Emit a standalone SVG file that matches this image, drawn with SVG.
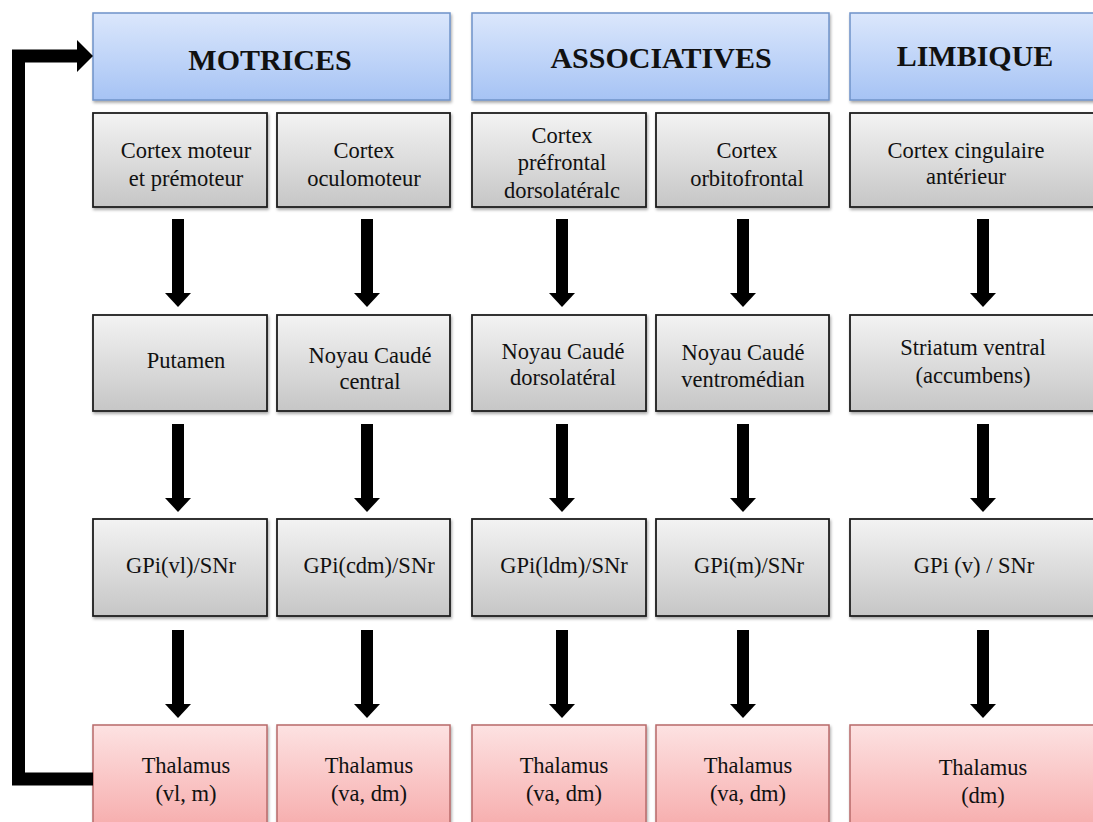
<svg xmlns="http://www.w3.org/2000/svg" width="1093" height="822" viewBox="0 0 1093 822">
<defs>
<linearGradient id="gBlue" x1="0" y1="0" x2="0" y2="1"><stop offset="0" stop-color="#dbe7fc"/><stop offset="1" stop-color="#a6c3f4"/></linearGradient>
<linearGradient id="gGray" x1="0" y1="0" x2="0" y2="1"><stop offset="0" stop-color="#f3f3f3"/><stop offset="1" stop-color="#c6c6c6"/></linearGradient>
<linearGradient id="gPink" x1="0" y1="0" x2="0" y2="1"><stop offset="0" stop-color="#fde2e2"/><stop offset="1" stop-color="#f6a9a9"/></linearGradient>
<filter id="sh" x="-5%" y="-5%" width="115%" height="120%"><feDropShadow dx="1" dy="2" stdDeviation="1.5" flood-color="#000" flood-opacity="0.35"/></filter>
<marker id="ah" viewBox="0 0 14 26" refX="0" refY="13" markerWidth="14" markerHeight="26" markerUnits="userSpaceOnUse" orient="auto"><path d="M0,0 L14,13 L0,26 Z" fill="#000"/></marker>
</defs>
<style>
.hdr{fill:url(#gBlue);stroke:#6f93c9;stroke-width:1.5;filter:url(#sh)}
.gry{fill:url(#gGray);stroke:#1e1e1e;stroke-width:1.8;filter:url(#sh)}
.pnk{fill:url(#gPink);stroke:#b86a6a;stroke-width:1.5;filter:url(#sh)}
text{font-family:'Liberation Serif','DejaVu Serif',serif;fill:#111;text-anchor:middle}
.ht{font-size:30px;font-weight:bold}
.bt{font-size:22.5px}
</style>
<rect width="1093" height="822" fill="#fff"/>
<g font-family="Liberation Serif, serif">
<g id="h-motrices"><rect class="hdr" x="93" y="13" width="357" height="87"/><text class="ht" x="270" y="70">MOTRICES</text></g>
<g id="h-associatives"><rect class="hdr" x="472" y="13" width="357" height="87"/><text class="ht" x="661" y="68">ASSOCIATIVES</text></g>
<g id="h-limbique"><rect class="hdr" x="850" y="13" width="260" height="87"/><text class="ht" x="975" y="66">LIMBIQUE</text></g>

<g id="n-cortex-moteur"><rect class="gry" x="93" y="113" width="174" height="94"/><text class="bt" x="186" y="158">Cortex moteur</text><text class="bt" x="186" y="186">et prémoteur</text></g>
<g id="n-cortex-oculo"><rect class="gry" x="277" y="113" width="173" height="94"/><text class="bt" x="364" y="158">Cortex</text><text class="bt" x="364" y="186">oculomoteur</text></g>
<g id="n-cortex-pfdl"><rect class="gry" x="472" y="113" width="174" height="94"/><text class="bt" x="562" y="143">Cortex</text><text class="bt" x="562" y="170">préfrontal</text><text class="bt" x="562" y="198">dorsolatéralc</text></g>
<g id="n-cortex-of"><rect class="gry" x="656" y="113" width="173" height="94"/><text class="bt" x="747" y="158">Cortex</text><text class="bt" x="747" y="186">orbitofrontal</text></g>
<g id="n-cortex-cing"><rect class="gry" x="850" y="113" width="260" height="94"/><text class="bt" x="966" y="158">Cortex cingulaire</text><text class="bt" x="966" y="184">antérieur</text></g>

<g id="n-putamen"><rect class="gry" x="93" y="315" width="174" height="96"/><text class="bt" x="186" y="368">Putamen</text></g>
<g id="n-nc-central"><rect class="gry" x="277" y="315" width="173" height="96"/><text class="bt" x="370" y="363">Noyau Caudé</text><text class="bt" x="370" y="389">central</text></g>
<g id="n-nc-dl"><rect class="gry" x="472" y="315" width="174" height="96"/><text class="bt" x="563" y="359">Noyau Caudé</text><text class="bt" x="563" y="385">dorsolatéral</text></g>
<g id="n-nc-vm"><rect class="gry" x="656" y="315" width="173" height="96"/><text class="bt" x="743" y="360">Noyau Caudé</text><text class="bt" x="743" y="387">ventromédian</text></g>
<g id="n-striatum"><rect class="gry" x="850" y="315" width="260" height="96"/><text class="bt" x="973" y="355">Striatum ventral</text><text class="bt" x="973" y="383">(accumbens)</text></g>

<g id="n-gpi-vl"><rect class="gry" x="93" y="519" width="174" height="97"/><text class="bt" x="181" y="573">GPi(vl)/SNr</text></g>
<g id="n-gpi-cdm"><rect class="gry" x="277" y="519" width="173" height="97"/><text class="bt" x="369" y="573">GPi(cdm)/SNr</text></g>
<g id="n-gpi-ldm"><rect class="gry" x="472" y="519" width="174" height="97"/><text class="bt" x="564" y="573">GPi(ldm)/SNr</text></g>
<g id="n-gpi-m"><rect class="gry" x="656" y="519" width="173" height="97"/><text class="bt" x="749" y="573">GPi(m)/SNr</text></g>
<g id="n-gpi-v"><rect class="gry" x="850" y="519" width="260" height="97"/><text class="bt" x="974" y="573">GPi (v) / SNr</text></g>

<g id="n-thal-1"><rect class="pnk" x="93" y="725" width="174" height="110"/><text class="bt" x="186" y="773">Thalamus</text><text class="bt" x="186" y="801">(vl, m)</text></g>
<g id="n-thal-2"><rect class="pnk" x="277" y="725" width="173" height="110"/><text class="bt" x="369" y="773">Thalamus</text><text class="bt" x="369" y="801">(va, dm)</text></g>
<g id="n-thal-3"><rect class="pnk" x="472" y="725" width="174" height="110"/><text class="bt" x="564" y="773">Thalamus</text><text class="bt" x="564" y="801">(va, dm)</text></g>
<g id="n-thal-4"><rect class="pnk" x="656" y="725" width="173" height="110"/><text class="bt" x="748" y="773">Thalamus</text><text class="bt" x="748" y="801">(va, dm)</text></g>
<g id="n-thal-5"><rect class="pnk" x="850" y="725" width="260" height="110"/><text class="bt" x="983" y="775">Thalamus</text><text class="bt" x="983" y="803">(dm)</text></g>
</g>

<g id="connectors" stroke="#000" stroke-width="12" fill="none">
<line x1="178" y1="219" x2="178" y2="293" marker-end="url(#ah)"/>
<line x1="367" y1="219" x2="367" y2="293" marker-end="url(#ah)"/>
<line x1="562" y1="219" x2="562" y2="293" marker-end="url(#ah)"/>
<line x1="743" y1="219" x2="743" y2="293" marker-end="url(#ah)"/>
<line x1="983" y1="219" x2="983" y2="293" marker-end="url(#ah)"/>
<line x1="178" y1="424" x2="178" y2="498" marker-end="url(#ah)"/>
<line x1="367" y1="424" x2="367" y2="498" marker-end="url(#ah)"/>
<line x1="562" y1="424" x2="562" y2="498" marker-end="url(#ah)"/>
<line x1="743" y1="424" x2="743" y2="498" marker-end="url(#ah)"/>
<line x1="983" y1="424" x2="983" y2="498" marker-end="url(#ah)"/>
<line x1="178" y1="630" x2="178" y2="704" marker-end="url(#ah)"/>
<line x1="367" y1="630" x2="367" y2="704" marker-end="url(#ah)"/>
<line x1="562" y1="630" x2="562" y2="704" marker-end="url(#ah)"/>
<line x1="743" y1="630" x2="743" y2="704" marker-end="url(#ah)"/>
<line x1="983" y1="630" x2="983" y2="704" marker-end="url(#ah)"/>
<path d="M93,779 H18.5 V56 H78" stroke-width="13" stroke-linejoin="miter"/>
<path d="M77,40 L93,56 L77,72 Z" fill="#000" stroke="none"/>
</g>
</svg>
